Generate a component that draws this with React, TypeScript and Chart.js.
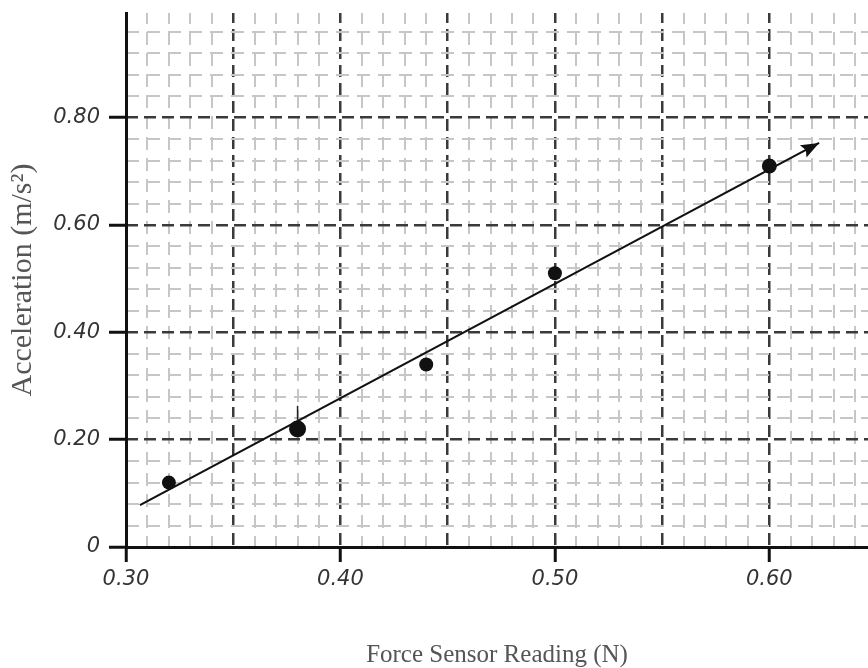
import React, { useEffect, useRef } from "react";
import { Chart, registerables } from "chart.js";

Chart.register(...registerables);

// ---- data ----
const forceReadings = [0.32, 0.38, 0.44, 0.5, 0.6];
const accelerations = [0.12, 0.22, 0.34, 0.51, 0.71];
const pointRadii = [7, 8.5, 7, 7, 7.5];

const fitLineX = [0.3065, 0.6232];
const fitLineY = [0.078, 0.753];

const markX = [0.38];
const markY = [0.25];

// ---- axes ----
const xMin = 0.3;
const xMax = 0.646;
const yMin = 0;
const yMax = 0.995;
const xMinorStep = 0.01;
const xMajorStep = 0.05;
const yMinorStep = 0.04;
const yMajorStep = 0.2;

const xLabeledTicks = [0.3, 0.4, 0.5, 0.6];
const xTickLabels = ["0.30", "0.40", "0.50", "0.60"];
const yLabeledTicks = [0, 0.2, 0.4, 0.6, 0.8];
const yTickLabels = ["0", "0.20", "0.40", "0.60", "0.80"];

const xTitle = "Force Sensor Reading (N)";
const yTitle = "Acceleration (m/s\u00B2)";

const MAJOR_COLOR = "#3a3a3a";
const MINOR_COLOR = "#c6c6c6";
const AXIS_COLOR = "#111111";

function gridValues(min: number, max: number, step: number): number[] {
  const out: number[] = [];
  const n = Math.floor((max - min) / step + 1e-9);
  for (let i = 0; i <= n; i++) out.push(Math.round((min + i * step) * 1e6) / 1e6);
  return out;
}

function findIndex(v: number, arr: number[]): number {
  return arr.findIndex((a) => Math.abs(a - v) < 1e-6);
}

function isMultiple(v: number, step: number): boolean {
  const r = v / step;
  return Math.abs(r - Math.round(r)) < 1e-6;
}

const arrowPlugin = {
  id: "arrowHead",
  afterDatasetsDraw(chart: any) {
    const meta = chart.getDatasetMeta(1);
    if (!meta || !meta.data || meta.data.length < 2) return;
    const p0 = meta.data[meta.data.length - 2];
    const p1 = meta.data[meta.data.length - 1];
    const ang = Math.atan2(p1.y - p0.y, p1.x - p0.x);
    const len = 18;
    const half = 7;
    const ctx = chart.ctx;
    ctx.save();
    ctx.translate(p1.x, p1.y);
    ctx.rotate(ang);
    ctx.beginPath();
    ctx.moveTo(0, 0);
    ctx.lineTo(-len, -half);
    ctx.lineTo(-len + 3, 0);
    ctx.lineTo(-len, half);
    ctx.closePath();
    ctx.fillStyle = "#111";
    ctx.fill();
    ctx.restore();
  },
};

function makeScale(
  axis: "x" | "y",
  min: number,
  max: number,
  minorStep: number,
  majorStep: number,
  labeled: number[],
  labels: string[],
  title: string
) {
  const isX = axis === "x";
  return {
    type: "linear",
    position: isX ? "bottom" : "left",
    min,
    max,
    afterBuildTicks: (scale: any) => {
      scale.ticks = gridValues(min, max, minorStep).map((v) => ({ value: v }));
    },
    afterFit: (scale: any) => {
      if (isX) {
        scale.height = 121;
        scale.paddingLeft = 0;
        scale.paddingRight = 0;
      } else {
        scale.width = 126;
        scale.paddingTop = 0;
        scale.paddingBottom = 0;
      }
    },
    ticks: {
      autoSkip: false,
      maxRotation: 0,
      minRotation: 0,
      padding: isX ? 5 : 9,
      color: "#333",
      font: { family: "DejaVu Sans", style: "italic", size: 21 },
      callback: (value: number) => {
        const i = findIndex(value, labeled);
        return i >= 0 ? labels[i] : "";
      },
    },
    grid: {
      drawOnChartArea: true,
      drawTicks: true,
      tickLength: isX ? 15 : 17,
      color: (ctx: any) => {
        const v = ctx.tick ? ctx.tick.value : 0;
        return isMultiple(v, majorStep) ? MAJOR_COLOR : MINOR_COLOR;
      },
      lineWidth: (ctx: any) => {
        const v = ctx.tick ? ctx.tick.value : 0;
        return isMultiple(v, majorStep) ? 2.5 : 2;
      },
      tickColor: (ctx: any) => {
        const v = ctx.tick ? ctx.tick.value : -1;
        return findIndex(v, labeled) >= 0 ? AXIS_COLOR : "rgba(0,0,0,0)";
      },
      tickWidth: 3,
    },
    border: {
      display: true,
      color: AXIS_COLOR,
      width: 3,
      dash: (ctx: any) => {
        if (!ctx.tick) return [];
        return isMultiple(ctx.tick.value, majorStep) ? [12, 6] : [13, 8];
      },
      dashOffset: 2,
    },
    title: {
      display: true,
      text: title,
      color: "#555",
      font: { family: "Liberation Serif", size: isX ? 25 : 30, lineHeight: 1 },
      padding: isX ? { top: 0, bottom: 0 } : { top: 8, bottom: 0 },
    },
  };
}

export default function App() {
  const canvasRef = useRef<HTMLCanvasElement | null>(null);

  useEffect(() => {
    const canvas = canvasRef.current;
    if (!canvas) return;
    const chart = new Chart(canvas, {
      type: "scatter",
      data: {
        datasets: [
          {
            label: "Measured",
            data: forceReadings.map((x, i) => ({ x, y: accelerations[i] })),
            pointRadius: pointRadii,
            pointBackgroundColor: "#111",
            pointBorderColor: "#111",
            pointBorderWidth: 0,
            showLine: false,
            order: 0,
          },
          {
            label: "Fit",
            data: fitLineX.map((x, i) => ({ x, y: fitLineY[i] })),
            showLine: true,
            borderColor: "#111",
            borderWidth: 2.2,
            pointRadius: 0,
            fill: false,
            order: 1,
          },
          {
            label: "Mark",
            data: markX.map((x, i) => ({ x, y: markY[i] })),
            pointStyle: "line",
            rotation: 90,
            pointRadius: 7,
            pointBorderColor: "#222",
            pointBorderWidth: 1.5,
            showLine: false,
            order: 2,
          },
        ],
      } as any,
      options: {
        responsive: false,
        animation: false,
        devicePixelRatio: 1,
        layout: { autoPadding: false, padding: { top: 13, right: 0, left: 0, bottom: 0 } },
        plugins: {
          legend: { display: false },
          tooltip: { enabled: false },
        },
        scales: {
          x: makeScale("x", xMin, xMax, xMinorStep, xMajorStep, xLabeledTicks, xTickLabels, xTitle),
          y: makeScale("y", yMin, yMax, yMinorStep, yMajorStep, yLabeledTicks, yTickLabels, yTitle),
        } as any,
      },
      plugins: [arrowPlugin],
    });
    return () => chart.destroy();
  }, []);

  return (
    <div style={{ position: "fixed", left: 0, top: 0, width: 868, height: 668, background: "#fff" }}>
      <canvas ref={canvasRef} width={868} height={668} style={{ width: 868, height: 668, display: "block" }} />
    </div>
  );
}
